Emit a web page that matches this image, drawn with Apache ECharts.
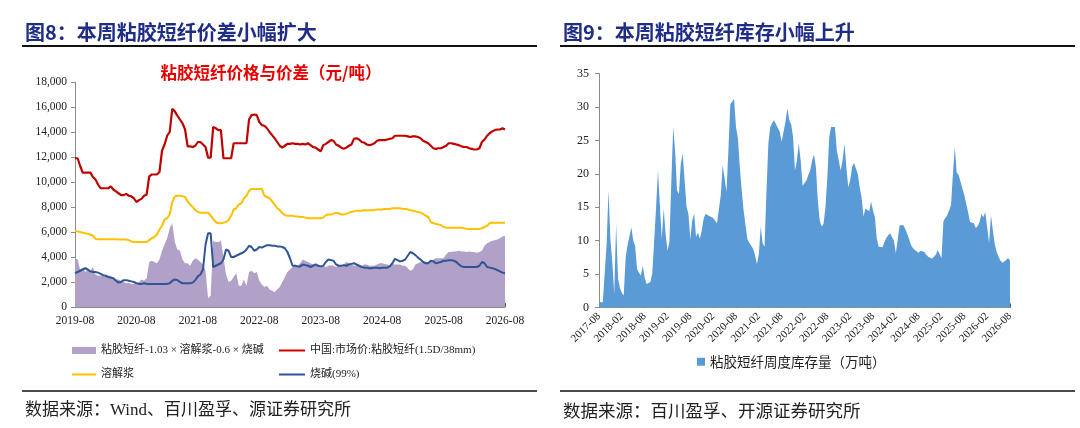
<!DOCTYPE html>
<html>
<head>
<meta charset="utf-8">
<script src="https://cdn.jsdelivr.net/npm/echarts@6/dist/echarts.min.js"></script>
<style>
html,body{margin:0;padding:0;background:#fff;}
#c{width:1080px;height:428px;}
</style>
</head>
<body>
<div id="c"></div>
<script>
// ---------- Figure 8 data (semi-monthly, 2019-08 .. 2026-08) ----------
const leftStart = [2019, 8];
const leftTickLabels = ['2019-08','2020-08','2021-08','2022-08','2023-08','2024-08','2025-08','2026-08'];
const viscosePrice = [
11900,11900,11300,10750,10750,10750,10750,10400,10200,9800,
9500,9500,9500,9500,9650,9400,9250,9100,8950,8950,
9050,8900,8850,8700,8400,8550,8650,8900,9000,10450,
10600,10600,10600,10800,12500,13000,13700,14000,15850,15650,
15300,15000,14700,14200,12850,12850,12800,12900,13200,13200,
13000,12800,11950,11950,14400,14300,14150,14150,11900,11900,
11900,11900,13100,13100,13100,13100,13100,13100,15000,15350,
15400,15350,14800,14550,14500,14300,14000,13750,13500,13200,
12900,12750,12900,13050,13050,13100,13050,13050,13000,13050,
13000,13100,12950,12800,12750,12600,12450,12950,13050,13200,
13350,13300,13000,12900,12750,12650,12750,12900,13000,13450,
13500,13400,13200,13150,13000,12950,13000,13100,13300,13350,
13350,13350,13400,13450,13500,13700,13700,13700,13700,13700,
13650,13600,13650,13650,13600,13500,13300,13200,13100,12900,
12700,12650,12700,12700,12800,12900,13100,13100,13050,13000,
12950,12850,12800,12800,12700,12650,12600,12600,12700,13200,
13400,13700,13900,14050,14150,14200,14200,14300,14200
];
const pulpPrice = [
6100,6050,6000,5950,5900,5850,5800,5700,5450,5420,
5420,5420,5420,5420,5420,5420,5420,5400,5400,5400,
5400,5350,5250,5200,5200,5200,5200,5200,5200,5350,
5500,5600,5800,6200,6500,7000,7100,7400,8400,8850,
8900,8900,8850,8800,8450,8200,8000,7750,7600,7550,
7550,7550,7550,7300,7050,6800,6700,6700,6750,6800,
6950,7300,7800,7900,8200,8300,8700,8900,9300,9450,
9450,9450,9450,9450,8900,8800,8700,8450,8200,7900,
7750,7500,7350,7300,7300,7300,7250,7250,7200,7200,
7150,7100,7100,7100,7100,7100,7100,7150,7350,7400,
7400,7450,7550,7500,7400,7400,7450,7550,7600,7650,
7700,7700,7700,7750,7750,7750,7750,7750,7800,7800,
7800,7850,7850,7850,7900,7900,7900,7900,7850,7850,
7800,7750,7700,7650,7600,7550,7450,7300,7200,6800,
6700,6650,6600,6550,6400,6350,6350,6350,6350,6350,
6350,6350,6300,6250,6250,6250,6250,6250,6250,6300,
6400,6500,6700,6750,6750,6750,6750,6750,6750
];
const causticPrice = [
2700,2800,2900,3000,3100,3000,2850,2800,2800,2750,
2650,2550,2500,2400,2350,2300,2100,1950,2000,2150,
2150,2100,2050,2000,1900,1850,1850,1900,1850,1850,
1850,1850,1850,1850,1850,1850,1850,1900,2100,2200,
2150,2000,1900,1900,1900,1900,1950,2150,2450,2600,
3000,5000,5900,5900,3200,3300,3400,3500,3800,4600,
4500,4000,4000,4100,4200,4300,4400,4600,4900,4800,
4500,4600,4800,4750,4850,4950,4950,4900,4900,4850,
4850,4800,4700,4400,3900,3300,3300,3250,3250,3400,
3350,3300,3200,3300,3400,3300,3250,3300,3600,3800,
3750,3700,3400,3300,3300,3350,3300,3400,3450,3500,
3400,3300,3200,3150,3150,3100,3100,3150,3150,3100,
3150,3150,3150,3250,3500,3850,3750,3650,3700,3800,
4100,4400,4300,4150,3950,3800,3600,3500,3500,3700,
3650,3500,3550,3600,3700,3700,3750,3750,3700,3600,
3400,3250,3200,3200,3200,3200,3200,3200,3300,3600,
3500,3200,3150,3100,3050,2950,2850,2750,2700
];
const spreadValue = [
3900,3800,3000,3100,2800,3000,2900,3200,2600,2500,
2500,2600,2400,2500,2500,2300,2200,2200,2100,2000,
1900,1950,1850,1850,1900,2000,2200,2100,2300,3600,
3700,3600,3500,3800,4500,5000,5500,6300,6700,5200,
4600,4500,3800,3500,3500,3300,3700,3900,3800,3600,
3400,2900,700,900,5300,5200,5200,5300,4000,2600,
2000,2100,2400,2700,1700,1700,2200,1700,2800,2900,
2700,2800,2100,1800,1600,1700,1400,1300,1200,1400,
1600,2000,2400,2800,3000,3200,3400,3300,3500,3800,
3700,3600,3500,3400,3300,3300,3200,3300,3200,3300,
3350,3300,3200,3300,3300,3400,3600,3500,3400,3300,
3300,3300,3300,3400,3400,3300,3300,3300,3400,3500,
3500,3450,3400,3350,3450,3400,3400,3400,3300,3300,
3100,2900,3000,3400,3500,3600,3500,3600,3600,3700,
3800,3900,3900,3900,3900,4200,4400,4400,4450,4450,
4500,4450,4450,4400,4450,4400,4400,4350,4400,4500,
4900,5100,5200,5300,5350,5400,5500,5650,5700
];

// ---------- Figure 9 data (semi-monthly, 2017-08 .. 2026-08) ----------
const rightStart = [2017, 8];
const rightTickLabels = ['2017-08','2018-02','2018-08','2019-02','2019-08','2020-02','2020-08','2021-02','2021-08','2022-02','2022-08','2023-02','2023-08','2024-02','2024-08','2025-02','2025-08','2026-02','2026-08'];
const inventory = [
0.8,0.8,0.8,0.8,9.5,17.5,10.2,6.8,2.1,12.5,
4.3,2.9,2.2,1.8,7.5,9.3,9.5,12.0,10.0,9.2,
5.8,5.2,4.8,6.2,4.5,3.5,3.3,3.8,5.1,5.3,
15.0,20.5,15.3,10.3,14.8,11.0,8.5,9.8,18.8,27.0,
23.5,17.5,17.0,21.5,23.0,19.0,15.1,14.0,10.2,13.0,
14.1,10.6,11.2,10.3,11.5,13.3,14.0,14.2,13.7,13.5,
13.4,13.3,12.6,12.6,16.8,21.3,21.1,17.3,23.5,30.4,
30.8,31.2,27.0,25.3,21.0,17.5,14.5,12.3,10.2,9.7,
9.6,8.8,7.8,6.5,8.0,12.1,9.6,9.1,17.3,24.5,
27.0,27.6,28.0,27.4,27.3,26.3,24.8,25.0,27.8,29.8,
28.0,27.4,25.5,20.5,22.0,24.5,22.0,18.2,18.3,19.0,
19.8,20.5,22.0,22.9,21.0,16.0,13.0,12.1,12.5,15.0,
19.5,25.5,27.0,26.8,27.0,23.5,22.0,20.5,22.0,24.5,
21.0,18.0,19.0,21.0,21.6,21.8,20.0,18.0,16.5,13.6,
14.8,14.6,14.4,15.8,14.5,13.5,10.3,9.1,8.9,9.0,
9.8,10.4,10.8,11.1,11.0,10.0,8.1,8.1,12.3,12.5,
12.3,11.7,11.0,10.2,9.3,8.9,8.6,8.4,8.2,8.5,
8.6,8.3,7.9,7.6,7.5,7.3,7.5,7.9,8.6,8.0,
7.4,12.9,13.4,13.8,13.6,15.3,20.0,24.0,20.2,19.8,
18.8,17.8,16.8,15.5,14.2,12.8,12.7,12.6,11.9,12.2,
12.8,14.0,13.5,14.3,12.0,9.7,13.8,11.5,9.5,8.3,
7.6,7.0,6.7,6.7,7.1,7.4,7.0
];

function semiMonthly(start, n) {
  const out = [];
  for (let i = 0; i < n; i++) {
    const mi = start[1] - 1 + Math.floor(i / 2);
    const y = start[0] + Math.floor(mi / 12);
    const m = (mi % 12) + 1;
    out.push(y + '-' + (m < 10 ? '0' : '') + m + (i % 2 ? '-16' : '-01'));
  }
  return out;
}
const leftCategories = semiMonthly(leftStart, viscosePrice.length);
const rightCategories = semiMonthly(rightStart, inventory.length);

const SERIF = "'Liberation Serif','Times New Roman','Noto Sans CJK SC',serif";
const CJK = "'Noto Sans CJK SC',sans-serif";
const spreadName = '粘胶短纤-1.03 × 溶解浆-0.6 × 烧碱';
const redName = '中国:市场价:粘胶短纤(1.5D/38mm)';
const pulpName = '溶解浆';
const causticName = '烧碱(99%)';
const invName = '粘胶短纤周度库存量（万吨）';

const chart = echarts.init(document.getElementById('c'), null, {renderer: 'canvas'});
const axisLine = {show: true, lineStyle: {color: '#8c8c8c', width: 1}};
const legendText = {fontFamily: SERIF, fontSize: 11, color: '#222'};

chart.setOption({
  animation: false,
  backgroundColor: '#fff',
  title: [
    {text: '图8：本周粘胶短纤价差小幅扩大', left: 20, top: 17,
     textStyle: {fontFamily: CJK, fontSize: 20, fontWeight: 'bold', color: '#1f2d86'}},
    {text: '图9：本周粘胶短纤库存小幅上升', left: 558, top: 17,
     textStyle: {fontFamily: CJK, fontSize: 20, fontWeight: 'bold', color: '#1f2d86'}},
    {text: '粘胶短纤价格与价差（元/吨）', left: 266, top: 59, textAlign: 'center',
     textStyle: {fontFamily: CJK, fontSize: 16.5, fontWeight: 'bold', color: '#e60000'}},
    {text: '数据来源：Wind、百川盈孚、源证券研究所', left: 20, top: 397,
     textStyle: {fontFamily: "'Liberation Serif','Noto Sans CJK SC',serif", fontSize: 17, fontWeight: 'normal', color: '#222'}},
    {text: '数据来源：百川盈孚、开源证券研究所', left: 558, top: 397,
     textStyle: {fontFamily: CJK, fontSize: 17.5, fontWeight: 'normal', color: '#222'}}
  ],
  graphic: [
    {type: 'line', shape: {x1: 22, y1: 46, x2: 537, y2: 46}, style: {stroke: '#111', lineWidth: 2}},
    {type: 'line', shape: {x1: 560, y1: 46, x2: 1075, y2: 46}, style: {stroke: '#111', lineWidth: 2}},
    {type: 'line', shape: {x1: 22, y1: 391, x2: 537, y2: 391}, style: {stroke: '#111', lineWidth: 1.5}},
    {type: 'line', shape: {x1: 560, y1: 391, x2: 1075, y2: 391}, style: {stroke: '#111', lineWidth: 1.5}}
  ],
  legend: [
    {data: [{name: spreadName, icon: 'rect'}], left: 72, top: 345, padding: 0, itemWidth: 24, itemHeight: 7, itemGap: 4, textStyle: legendText},
    {data: [{name: redName, icon: 'rect'}], left: 279, top: 345, padding: 0, itemWidth: 26, itemHeight: 2, textStyle: legendText},
    {data: [{name: pulpName, icon: 'rect'}], left: 72, top: 369, padding: 0, itemWidth: 24, itemHeight: 2, textStyle: legendText},
    {data: [{name: causticName, icon: 'rect'}], left: 279, top: 369, padding: 0, itemWidth: 26, itemHeight: 2, textStyle: legendText},
    {data: [{name: invName, icon: 'rect'}], left: 697, top: 355, padding: 0, itemWidth: 8, itemHeight: 8, itemGap: 3,
     textStyle: {fontFamily: CJK, fontSize: 13.5, color: '#222'}}
  ],
  grid: [
    {left: 75, top: 82, width: 430, height: 225, containLabel: false},
    {left: 599, top: 73.5, width: 411, height: 234, containLabel: false}
  ],
  xAxis: [
    {type: 'category', gridIndex: 0, data: leftCategories, boundaryGap: false,
     axisLine: axisLine,
     axisTick: {show: true, length: 4, inside: true, interval: (i) => i % 24 === 0, lineStyle: {color: '#555'}},
     axisLabel: {interval: (i) => i % 24 === 0, formatter: (v) => v.slice(0, 7), margin: 8,
       fontFamily: SERIF, fontSize: 11.5, color: '#222'}},
    {type: 'category', gridIndex: 1, data: rightCategories, boundaryGap: false,
     axisLine: axisLine,
     axisTick: {show: true, length: 4, inside: true, interval: (i) => i % 12 === 0, lineStyle: {color: '#555'}},
     axisLabel: {interval: (i) => i % 12 === 0, formatter: (v) => v.slice(0, 7), rotate: 45, margin: 7,
       fontFamily: SERIF, fontSize: 11, color: '#222'}}
  ],
  yAxis: [
    {type: 'value', gridIndex: 0, min: 0, max: 18000, interval: 2000,
     axisLine: axisLine, axisTick: {show: true, length: 4, lineStyle: {color: '#8c8c8c'}},
     splitLine: {show: false},
     axisLabel: {formatter: (v) => v.toLocaleString('en-US'), margin: 8, fontFamily: SERIF, fontSize: 11.5, color: '#222'}},
    {type: 'value', gridIndex: 1, min: 0, max: 35, interval: 5,
     axisLine: axisLine, axisTick: {show: true, length: 4, lineStyle: {color: '#8c8c8c'}},
     splitLine: {show: false},
     axisLabel: {margin: 10, fontFamily: SERIF, fontSize: 12, color: '#222'}}
  ],
  series: [
    {name: spreadName, type: 'line', xAxisIndex: 0, yAxisIndex: 0, data: spreadValue,
     symbol: 'none', lineStyle: {width: 0}, itemStyle: {color: '#b1a0c7'},
     areaStyle: {color: '#b1a0c7', opacity: 1}, z: 1},
    {name: pulpName, type: 'line', xAxisIndex: 0, yAxisIndex: 0, data: pulpPrice,
     symbol: 'none', lineStyle: {width: 2, color: '#ffc000'}, itemStyle: {color: '#ffc000'}, z: 3},
    {name: causticName, type: 'line', xAxisIndex: 0, yAxisIndex: 0, data: causticPrice,
     symbol: 'none', lineStyle: {width: 2, color: '#2f5597'}, itemStyle: {color: '#2f5597'}, z: 4},
    {name: redName, type: 'line', xAxisIndex: 0, yAxisIndex: 0, data: viscosePrice,
     symbol: 'none', lineStyle: {width: 2.2, color: '#c00000'}, itemStyle: {color: '#d00000'}, z: 5},
    {name: invName, type: 'line', xAxisIndex: 1, yAxisIndex: 1, data: inventory,
     symbol: 'none', lineStyle: {width: 0}, itemStyle: {color: '#5b9bd5'},
     areaStyle: {color: '#5b9bd5', opacity: 1}}
  ]
});
</script>
</body>
</html>
